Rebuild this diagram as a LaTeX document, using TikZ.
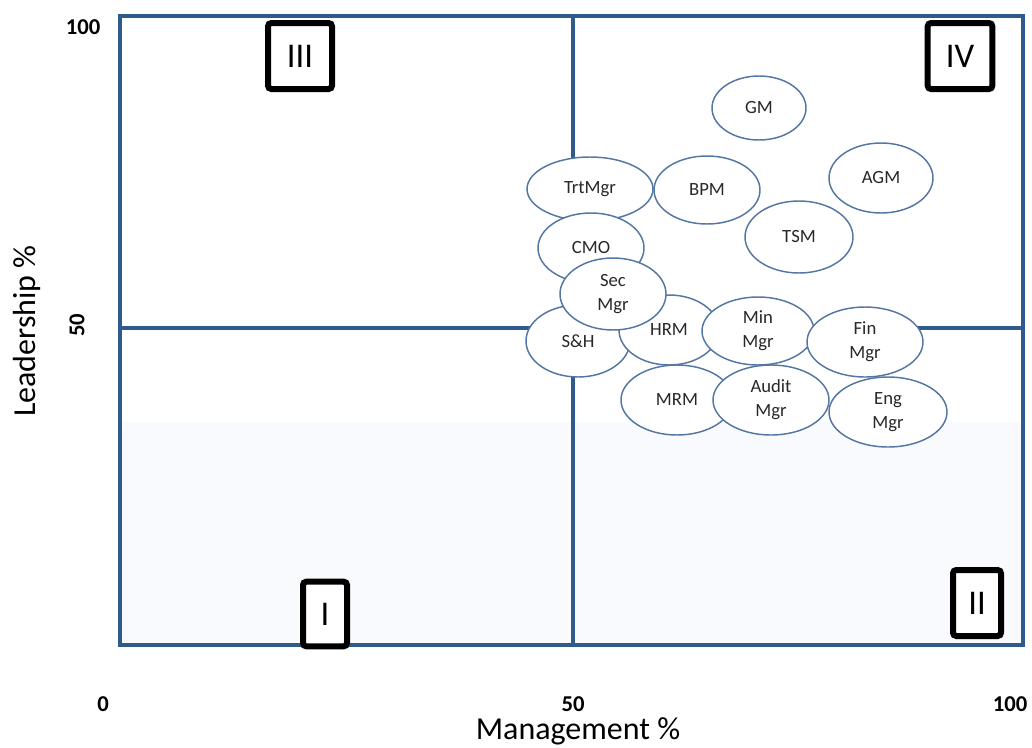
\documentclass[tikz,border=0pt]{standalone}
\usepackage{fontspec}
\setmainfont{Carlito}
\usetikzlibrary{shapes.geometric}
\definecolor{gridblue}{RGB}{46,90,140}
\definecolor{ovalblue}{RGB}{84,118,163}
\definecolor{ovaltext}{RGB}{40,40,40}
\definecolor{lowtint}{RGB}{248,250,253}
\begin{document}
\begin{tikzpicture}[x=0.75pt,y=-0.75pt,
  role/.style={ellipse, draw=ovalblue, line width=1.1pt, fill=white, inner sep=0pt,
    text=ovaltext, font=\fontsize{14}{18}\selectfont, align=center},
  quad/.style={draw=black, line width=4.5pt, rounded corners=2.5pt, fill=white,
    inner sep=0pt, font=\fontsize{26}{28}\selectfont},
  tick/.style={font=\bfseries\fontsize{17}{19}\selectfont},
  axis/.style={font=\fontsize{24}{26}\selectfont}]
\useasboundingbox (0,0) rectangle (1032,747);

% plot area with grid lines
\fill[lowtint] (120,422) rectangle (1023,645);
\coordinate (tl) at (120,16);
\coordinate (br) at (1023,645);
\coordinate (mt) at (573,16);
\coordinate (mb) at (573,645);
\coordinate (ml) at (120,328);
\coordinate (mr) at (1023,328);
\draw[gridblue, line width=2.6pt] (mt) -- (mb);
\draw[gridblue, line width=2.6pt] (ml) -- (mr);
\draw[gridblue, line width=3pt] (tl) rectangle (br);

% tick labels
\node[tick] (y100) at (83,27) {100};
\node[tick, rotate=90] (y50) at (77,325) {50};
\node[tick] (x0) at (103,704) {0};
\node[tick] (x50) at (573,704) {50};
\node[tick] (x100) at (1010,704) {100};

% axis titles
\node[axis, anchor=base] (xlab) at (578,739) {Management \%};
\node[axis, rotate=90] (ylab) at (27,331) {Leadership \%};

% quadrant markers
\node[quad, minimum width=48pt, minimum height=49.5pt] (q3) at (300,56) {III};
\node[quad, minimum width=48.5pt, minimum height=49.5pt] (q4) at (960,56) {IV};
\node[quad, minimum width=33pt, minimum height=48.5pt] (q1) at (325,614) {I};
\node[quad, minimum width=36pt, minimum height=49.5pt] (q2) at (977,603) {II};

% roles
\node[role, minimum width=70.5pt, minimum height=48pt] (gm) at (759,108) {GM};
\node[role, minimum width=78pt, minimum height=52.5pt] (agm) at (881,178) {AGM};
\node[role, minimum width=81pt, minimum height=54pt] (tsm) at (799,237) {TSM};
\node[role, minimum width=94.5pt, minimum height=48pt] (trt) at (590,189) {TrtMgr};
\node[role, minimum width=79.5pt, minimum height=51pt] (bpm) at (707,190) {BPM};
\node[role, minimum width=79.5pt, minimum height=52.5pt] (cmo) at (591,248) {CMO};
\node[role, minimum width=78pt, minimum height=54pt] (sh) at (578,341) {S\&H};
\node[role, minimum width=75pt, minimum height=52.5pt] (hrm) at (669,330) {HRM};
\node[role, minimum width=79.5pt, minimum height=54pt] (sec) at (613,294) {Sec\\Mgr};
\node[role, minimum width=84pt, minimum height=51pt] (min) at (758,331) {Min\\Mgr};
\node[role, minimum width=87pt, minimum height=52.5pt] (fin) at (865,342) {Fin\\Mgr};
\node[role, minimum width=84pt, minimum height=52.5pt] (mrm) at (677,400) {MRM};
\node[role, minimum width=87pt, minimum height=52.5pt] (aud) at (771,400) {Audit\\Mgr};
\node[role, minimum width=88.5pt, minimum height=52.5pt] (eng) at (888,412) {Eng\\Mgr};
\end{tikzpicture}
\end{document}
